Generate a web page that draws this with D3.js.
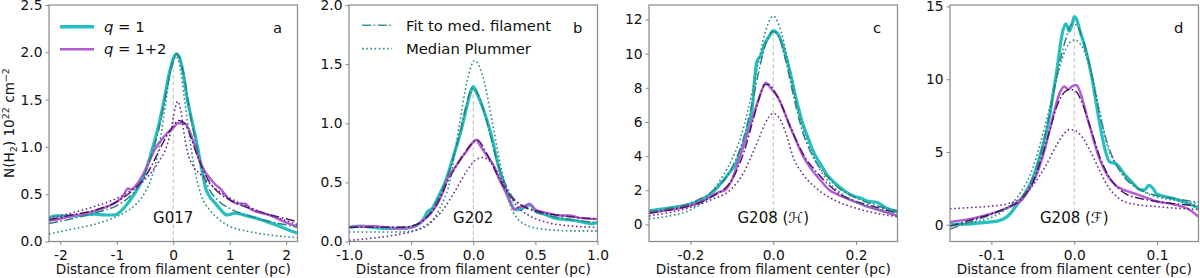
<!DOCTYPE html>
<html>
<head>
<meta charset="utf-8">
<script src="https://cdn.jsdelivr.net/npm/d3@7"></script>
<style>
body { margin: 0; background: #fff; }
svg { font-family: "DejaVu Sans", sans-serif; }
</style>
</head>
<body>
<script>
(function(){

//panel a (G017): [distance pc, N(H2) 1e22]
var aQ1 = [[-2.2,0.25],[-2.1,0.27],[-2.0,0.27],[-1.8,0.27],[-1.6,0.28],[-1.4,0.29],[-1.2,0.28],[-1.05,0.28],[-0.95,0.31],[-0.85,0.37],[-0.69,0.5],[-0.55,0.65],[-0.45,0.82],[-0.36,1.0],[-0.25,1.25],[-0.16,1.5],[-0.08,1.75],[0.0,1.93],[0.05,1.98],[0.1,1.96],[0.17,1.8],[0.25,1.5],[0.34,1.25],[0.43,1.0],[0.5,0.78],[0.58,0.55],[0.65,0.47],[0.75,0.4],[0.85,0.33],[0.95,0.28],[1.02,0.29],[1.1,0.3],[1.25,0.28],[1.45,0.25],[1.65,0.21],[1.85,0.17],[2.05,0.12],[2.2,0.09]];
var aQ12 = [[-2.2,0.22],[-2.0,0.24],[-1.8,0.27],[-1.6,0.29],[-1.4,0.32],[-1.2,0.36],[-1.0,0.42],[-0.9,0.47],[-0.8,0.56],[-0.75,0.55],[-0.65,0.6],[-0.5,0.75],[-0.4,0.88],[-0.3,1.0],[-0.2,1.08],[-0.1,1.15],[0.0,1.2],[0.08,1.25],[0.2,1.25],[0.28,1.18],[0.36,1.05],[0.45,0.88],[0.55,0.75],[0.65,0.67],[0.75,0.6],[0.85,0.55],[0.95,0.47],[1.05,0.42],[1.15,0.4],[1.28,0.4],[1.35,0.35],[1.5,0.31],[1.7,0.28],[1.85,0.24],[2.0,0.2],[2.2,0.16]];
var aFit1 = [[-2.2,0.19],[-1.8,0.24],[-1.4,0.3],[-1.0,0.38],[-0.8,0.46],[-0.6,0.6],[-0.4,0.88],[-0.25,1.2],[-0.1,1.65],[0.0,1.9],[0.06,1.99],[0.12,1.93],[0.2,1.72],[0.3,1.35],[0.4,1.05],[0.5,0.78],[0.6,0.6],[0.8,0.43],[1.0,0.35],[1.4,0.26],[1.8,0.2],[2.2,0.15]];
var aFit12 = [[-2.2,0.23],[-1.8,0.28],[-1.4,0.33],[-1.0,0.42],[-0.7,0.55],[-0.5,0.68],[-0.3,0.9],[-0.15,1.08],[0.0,1.22],[0.1,1.28],[0.2,1.25],[0.3,1.12],[0.4,0.95],[0.5,0.8],[0.6,0.67],[0.8,0.52],[1.0,0.44],[1.4,0.34],[1.8,0.27],[2.2,0.21]];
var aPl1 = [[-2.2,0.08],[-1.8,0.13],[-1.4,0.18],[-1.1,0.24],[-0.85,0.31],[-0.65,0.4],[-0.5,0.52],[-0.38,0.68],[-0.25,1.0],[-0.15,1.4],[-0.05,1.8],[0.03,1.97],[0.1,1.9],[0.2,1.5],[0.3,1.05],[0.4,0.7],[0.5,0.48],[0.65,0.33],[0.8,0.24],[1.0,0.16],[1.3,0.11],[1.7,0.07],[2.2,0.04]];
var aPl12 = [[-2.2,0.25],[-1.8,0.3],[-1.4,0.37],[-1.1,0.43],[-0.8,0.52],[-0.6,0.6],[-0.4,0.72],[-0.25,0.85],[-0.12,1.0],[-0.03,1.2],[0.03,1.4],[0.08,1.48],[0.13,1.4],[0.19,1.15],[0.25,0.95],[0.35,0.8],[0.5,0.7],[0.7,0.58],[1.0,0.46],[1.4,0.35],[1.8,0.26],[2.2,0.18]];

//panel b (G202)
var bQ1 = [[-1.0,0.12],[-0.9,0.13],[-0.8,0.12],[-0.7,0.11],[-0.6,0.11],[-0.5,0.12],[-0.45,0.14],[-0.4,0.19],[-0.37,0.25],[-0.33,0.28],[-0.28,0.38],[-0.22,0.52],[-0.16,0.72],[-0.1,0.93],[-0.05,1.15],[-0.02,1.27],[0.0,1.31],[0.03,1.25],[0.07,1.15],[0.1,1.06],[0.15,0.88],[0.2,0.65],[0.25,0.48],[0.3,0.33],[0.34,0.27],[0.38,0.27],[0.42,0.3],[0.46,0.31],[0.5,0.26],[0.55,0.24],[0.6,0.22],[0.65,0.2],[0.7,0.19],[0.8,0.18],[0.9,0.16],[0.95,0.15],[1.0,0.16]];
var bQ12 = [[-1.0,0.12],[-0.9,0.13],[-0.8,0.13],[-0.7,0.12],[-0.6,0.11],[-0.5,0.12],[-0.4,0.18],[-0.3,0.3],[-0.25,0.4],[-0.2,0.55],[-0.15,0.62],[-0.1,0.7],[-0.05,0.77],[0.0,0.84],[0.02,0.86],[0.05,0.82],[0.1,0.74],[0.17,0.63],[0.2,0.55],[0.25,0.44],[0.29,0.35],[0.33,0.27],[0.37,0.29],[0.42,0.3],[0.45,0.32],[0.5,0.27],[0.6,0.24],[0.7,0.22],[0.78,0.22],[0.85,0.2],[1.0,0.19]];
var bFit1 = [[-1.0,0.12],[-0.8,0.12],[-0.6,0.12],[-0.5,0.13],[-0.4,0.18],[-0.3,0.33],[-0.2,0.57],[-0.1,0.95],[-0.03,1.25],[0.0,1.3],[0.05,1.22],[0.1,1.05],[0.2,0.65],[0.3,0.4],[0.4,0.3],[0.5,0.25],[0.7,0.2],[1.0,0.16]];
var bFit12 = [[-1.0,0.12],[-0.8,0.12],[-0.6,0.12],[-0.5,0.13],[-0.4,0.18],[-0.3,0.3],[-0.2,0.52],[-0.1,0.7],[0.0,0.84],[0.03,0.86],[0.1,0.76],[0.2,0.55],[0.3,0.38],[0.4,0.3],[0.5,0.26],[0.7,0.22],[1.0,0.19]];
var bPl1 = [[-1.0,0.08],[-0.8,0.08],[-0.6,0.08],[-0.45,0.1],[-0.35,0.15],[-0.27,0.28],[-0.19,0.5],[-0.11,1.0],[-0.05,1.35],[0.01,1.53],[0.07,1.42],[0.155,1.0],[0.2,0.75],[0.25,0.5],[0.3,0.3],[0.35,0.2],[0.45,0.13],[0.6,0.1],[0.8,0.09],[1.0,0.09]];
var bPl12 = [[-1.0,0.01],[-0.8,0.03],[-0.6,0.06],[-0.45,0.1],[-0.35,0.16],[-0.25,0.26],[-0.15,0.42],[-0.05,0.6],[0.02,0.69],[0.07,0.71],[0.12,0.69],[0.2,0.58],[0.28,0.42],[0.35,0.3],[0.45,0.22],[0.6,0.16],[0.8,0.13],[1.0,0.12]];

//panel c (G208 H)
var cQ1 = [[-0.3,0.8],[-0.27,0.9],[-0.24,1.0],[-0.2,1.2],[-0.17,1.5],[-0.15,1.8],[-0.13,2.3],[-0.11,2.9],[-0.09,3.6],[-0.07,4.9],[-0.06,5.8],[-0.05,7.0],[-0.045,8.5],[-0.04,9.5],[-0.03,9.9],[-0.02,10.6],[-0.01,11.0],[0.0,11.35],[0.01,11.2],[0.02,10.7],[0.03,9.9],[0.04,9.0],[0.05,7.9],[0.06,6.9],[0.07,6.0],[0.085,5.0],[0.1,4.1],[0.115,3.5],[0.13,2.9],[0.15,2.4],[0.17,2.0],[0.19,1.7],[0.21,1.55],[0.23,1.35],[0.25,1.3],[0.27,1.0],[0.3,0.75]];
var cQ12 = [[-0.3,0.7],[-0.25,0.85],[-0.2,1.1],[-0.16,1.5],[-0.13,1.9],[-0.117,2.0],[-0.1,2.6],[-0.08,4.0],[-0.065,5.1],[-0.053,6.0],[-0.04,7.0],[-0.025,8.0],[-0.018,8.3],[-0.01,8.1],[0.0,7.8],[0.01,7.5],[0.02,7.0],[0.036,6.0],[0.05,5.2],[0.072,4.0],[0.09,3.3],[0.11,2.7],[0.136,2.0],[0.16,1.7],[0.19,1.4],[0.22,1.1],[0.26,0.8],[0.3,0.5]];
var cFit1 = [[-0.3,0.75],[-0.25,0.95],[-0.2,1.25],[-0.15,1.9],[-0.1,3.3],[-0.07,5.2],[-0.05,7.2],[-0.03,9.5],[-0.015,10.8],[0.0,11.3],[0.015,10.9],[0.03,9.6],[0.05,7.4],[0.07,5.5],[0.1,3.8],[0.13,2.8],[0.16,2.1],[0.2,1.55],[0.25,1.1],[0.3,0.8]];
var cFit12 = [[-0.3,0.65],[-0.25,0.85],[-0.2,1.1],[-0.15,1.6],[-0.1,2.6],[-0.07,4.3],[-0.05,6.0],[-0.035,7.3],[-0.02,8.2],[-0.01,8.2],[0.0,7.9],[0.02,7.0],[0.04,5.8],[0.06,4.7],[0.08,3.8],[0.1,3.2],[0.13,2.4],[0.16,1.8],[0.2,1.35],[0.25,1.0],[0.3,0.65]];
var cPl1 = [[-0.3,0.33],[-0.25,0.5],[-0.2,0.85],[-0.17,1.3],[-0.145,2.0],[-0.12,2.9],[-0.1,3.8],[-0.08,5.0],[-0.06,6.8],[-0.04,9.0],[-0.02,11.2],[0.0,12.2],[0.02,11.2],[0.04,9.0],[0.06,6.7],[0.08,5.0],[0.1,3.8],[0.13,2.6],[0.16,1.9],[0.2,1.3],[0.25,0.9],[0.3,0.65]];
var cPl12 = [[-0.3,0.5],[-0.25,0.7],[-0.2,1.0],[-0.15,1.45],[-0.1,2.1],[-0.07,3.1],[-0.053,4.0],[-0.035,5.0],[-0.02,5.9],[0.0,6.5],[0.02,6.0],[0.035,5.0],[0.047,4.0],[0.07,3.0],[0.11,2.0],[0.15,1.4],[0.2,0.95],[0.25,0.65],[0.3,0.45]];

//panel d (G208 F)
var dQ1 = [[-0.15,0.05],[-0.13,0.05],[-0.11,0.15],[-0.1,0.2],[-0.09,0.3],[-0.08,0.6],[-0.07,1.3],[-0.06,2.1],[-0.05,3.2],[-0.04,5.0],[-0.03,7.4],[-0.025,9.2],[-0.02,11.0],[-0.015,13.0],[-0.01,13.8],[-0.006,13.3],[-0.003,13.7],[0.0,14.3],[0.003,14.1],[0.007,13.3],[0.012,12.4],[0.02,10.5],[0.03,7.2],[0.037,5.2],[0.043,4.3],[0.05,4.2],[0.055,3.9],[0.06,3.5],[0.07,2.9],[0.08,2.4],[0.085,2.4],[0.09,2.7],[0.095,2.5],[0.1,2.1],[0.12,1.8],[0.14,1.4],[0.15,1.15]];
var dQ12 = [[-0.15,0.2],[-0.13,0.35],[-0.11,0.6],[-0.09,0.95],[-0.075,1.3],[-0.065,1.6],[-0.055,2.4],[-0.045,3.5],[-0.035,5.3],[-0.025,7.6],[-0.018,9.0],[-0.012,9.5],[-0.007,9.3],[-0.003,9.5],[0.002,9.6],[0.006,9.3],[0.01,8.6],[0.015,7.5],[0.02,6.5],[0.03,4.6],[0.04,3.4],[0.05,2.7],[0.06,2.4],[0.07,2.2],[0.08,2.0],[0.1,1.6],[0.12,1.4],[0.14,1.0],[0.15,0.55]];
var dFit1 = [[-0.15,-0.3],[-0.12,0.3],[-0.1,0.7],[-0.08,1.2],[-0.065,1.8],[-0.05,3.2],[-0.04,5.0],[-0.03,7.5],[-0.02,10.5],[-0.01,12.8],[-0.003,13.8],[0.003,13.7],[0.01,12.8],[0.02,10.6],[0.03,7.8],[0.04,5.6],[0.05,4.2],[0.06,3.3],[0.08,2.4],[0.1,2.0],[0.12,1.8],[0.15,1.55]];
var dFit12 = [[-0.15,-0.1],[-0.12,0.4],[-0.1,0.75],[-0.08,1.2],[-0.065,1.7],[-0.05,2.9],[-0.04,4.5],[-0.03,6.4],[-0.02,8.3],[-0.01,9.2],[-0.004,9.3],[0.003,9.1],[0.01,8.3],[0.02,6.6],[0.03,4.8],[0.04,3.5],[0.05,2.7],[0.06,2.2],[0.08,1.8],[0.1,1.6],[0.12,1.45],[0.15,1.3]];
var dPl1 = [[-0.15,-0.1],[-0.12,0.2],[-0.1,0.5],[-0.08,1.2],[-0.065,2.2],[-0.05,3.9],[-0.04,5.8],[-0.03,8.0],[-0.02,10.3],[-0.01,12.1],[0.0,12.7],[0.01,12.2],[0.02,10.6],[0.03,8.0],[0.04,5.4],[0.05,4.2],[0.063,3.3],[0.08,2.4],[0.1,1.9],[0.12,1.7],[0.15,1.45]];
var dPl12 = [[-0.15,1.1],[-0.12,1.2],[-0.1,1.28],[-0.08,1.45],[-0.065,1.8],[-0.05,2.7],[-0.035,4.0],[-0.02,5.6],[-0.01,6.4],[-0.005,6.55],[0.0,6.5],[0.01,6.0],[0.02,5.0],[0.03,3.8],[0.04,2.7],[0.05,2.0],[0.06,1.6],[0.08,1.35],[0.1,1.25],[0.12,1.15],[0.15,1.05]];

//axis limits and ticks
var xDomains = [[-2.2, 2.2], [-1.0, 1.0], [-0.3, 0.3], [-0.15, 0.15]];
var yDomains = [[0, 2.5], [0, 2.0], [-1.0, 12.85], [-1.15, 15.1]];
var xTicks = [[-2, -1, 0, 1, 2], [-1.0, -0.5, 0.0, 0.5, 1.0], [-0.2, 0.0, 0.2], [-0.1, 0.0, 0.1]];
var yTicks = [[0, 0.5, 1.0, 1.5, 2.0, 2.5], [0, 0.5, 1.0, 1.5, 2.0], [0, 2, 4, 6, 8, 10, 12], [0, 5, 10, 15]];
var xFormats = ["d", ".1f", ".1f", ".1f"];
var yFormats = [".1f", ".1f", "d", "d"];
var panelLetters = ["a", "b", "c", "d"];
var regionNames = ["G017", "G202", "G208 (\u210B)", "G208 (\u2131)"];
var legendA = ["q = 1", "q = 1+2"];
var legendB = ["Fit to med. filament", "Median Plummer"];

//series styles
var colTeal = "#26bfbf", colPurple = "#b45ad2",
    colTealFit = "#2f7f80", colPurpleFit = "#4a1866",
    colTealPl = "#2a8a8a", colPurplePl = "#6b2d8f";
var dashDot = "9,2.6,1.6,2.6", dotted = "1.6,2.6";

var panels = [
    {q1: aQ1, q12: aQ12, fit1: aFit1, fit12: aFit12, pl1: aPl1, pl12: aPl12},
    {q1: bQ1, q12: bQ12, fit1: bFit1, fit12: bFit12, pl1: bPl1, pl12: bPl12},
    {q1: cQ1, q12: cQ12, fit1: cFit1, fit12: cFit12, pl1: cPl1, pl12: cPl12},
    {q1: dQ1, q12: dQ12, fit1: dFit1, fit12: dFit12, pl1: dPl1, pl12: dPl12}
];

//frame dimensions
var width = 1200, height = 278;
var lefts = [49, 349, 649, 950],
    panelWidth = 248.5,
    top = 5,
    bottom = 241.5;

var svg = d3.select("body")
    .append("svg")
    .attr("width", width)
    .attr("height", height);

function fmt(f){
    var base = d3.format(f);
    return function(d){ return base(d).replace("\u2212", "-"); };
};

panels.forEach(function(p, i){
    var x = d3.scaleLinear().domain(xDomains[i]).range([lefts[i], lefts[i] + panelWidth]);
    var y = d3.scaleLinear().domain(yDomains[i]).range([bottom, top]);

    var g = svg.append("g").attr("class", "panel");

    //clip for the plot area
    g.append("clipPath")
        .attr("id", "clip" + i)
        .append("rect")
        .attr("x", lefts[i])
        .attr("y", top)
        .attr("width", panelWidth)
        .attr("height", bottom - top);

    var plot = g.append("g").attr("clip-path", "url(#clip" + i + ")");

    //grey centre line from 0 up to the peak
    plot.append("line")
        .attr("x1", x(0)).attr("x2", x(0))
        .attr("y1", y(0)).attr("y2", y(d3.max(p.q1, function(d){ return d[1]; })))
        .attr("stroke", "#c8c8c8")
        .attr("stroke-width", 1.2)
        .attr("stroke-dasharray", "4,2.5");

    var line = d3.line()
        .x(function(d){ return x(d[0]); })
        .y(function(d){ return y(d[1]); })
        .curve(d3.curveMonotoneX);

    var series = [
        {data: p.q1, color: colTeal, w: 3.2, dash: null},
        {data: p.q12, color: colPurple, w: 2.4, dash: null},
        {data: p.fit1, color: colTealFit, w: 1.5, dash: dashDot},
        {data: p.fit12, color: colPurpleFit, w: 1.5, dash: dashDot},
        {data: p.pl1, color: colTealPl, w: 1.6, dash: dotted},
        {data: p.pl12, color: colPurplePl, w: 1.6, dash: dotted}
    ];

    plot.selectAll(".series")
        .data(series)
        .enter()
        .append("path")
        .attr("class", "series")
        .attr("d", function(s){ return line(s.data); })
        .attr("fill", "none")
        .attr("stroke", function(s){ return s.color; })
        .attr("stroke-width", function(s){ return s.w; })
        .attr("stroke-dasharray", function(s){ return s.dash; })
        .attr("stroke-linejoin", "round");

    //axes
    var xAxis = g.append("g")
        .attr("transform", "translate(0," + bottom + ")")
        .call(d3.axisBottom(x).tickValues(xTicks[i]).tickSize(3.5).tickPadding(5.5).tickFormat(fmt(xFormats[i])));
    var yAxis = g.append("g")
        .attr("transform", "translate(" + lefts[i] + ",0)")
        .call(d3.axisLeft(y).tickValues(yTicks[i]).tickSize(3.5).tickPadding(3).tickFormat(fmt(yFormats[i])));

    [xAxis, yAxis].forEach(function(ax){
        ax.select(".domain").remove();
        ax.selectAll("line").attr("stroke", "#888");
        ax.selectAll("text")
            .attr("fill", "#111")
            .style("font-size", "13.8px")
            .style("font-family", "DejaVu Sans");
    });

    //frame
    g.append("rect")
        .attr("x", lefts[i])
        .attr("y", top)
        .attr("width", panelWidth)
        .attr("height", bottom - top)
        .attr("fill", "none")
        .attr("stroke", "#888")
        .attr("stroke-width", 1.2);

    //x label
    g.append("text")
        .attr("x", lefts[i] + panelWidth / 2)
        .attr("y", 274)
        .attr("text-anchor", "middle")
        .style("font-size", "13.6px")
        .attr("fill", "#111")
        .text("Distance from filament center (pc)");

    //panel letter
    g.append("text")
        .attr("x", lefts[i] + panelWidth - 24.5)
        .attr("y", 33)
        .style("font-size", "14.8px")
        .attr("fill", "#111")
        .text(panelLetters[i]);

    //region name
    g.append("text")
        .attr("x", x(0))
        .attr("y", 223)
        .attr("text-anchor", "middle")
        .style("font-size", "15px")
        .attr("fill", "#111")
        .text(regionNames[i]);
});

//legend in panel a
var legA = svg.append("g");
[[colTeal, 3.5], [colPurple, 2.5]].forEach(function(s, j){
    var yy = 26.7 + j * 22.5;
    legA.append("line")
        .attr("x1", 60).attr("x2", 94)
        .attr("y1", yy).attr("y2", yy)
        .attr("stroke", s[0])
        .attr("stroke-width", s[1]);
    var t = legA.append("text")
        .attr("x", 104)
        .attr("y", yy + 5)
        .style("font-size", "14.8px")
        .attr("fill", "#111");
    t.append("tspan").style("font-style", "italic").text(legendA[j].slice(0, 1));
    t.append("tspan").text(legendA[j].slice(1));
});

//legend in panel b
var legB = svg.append("g");
[dashDot, dotted].forEach(function(dash, j){
    var yy = 25.3 + j * 23.3;
    legB.append("line")
        .attr("x1", 362).attr("x2", 392)
        .attr("y1", yy).attr("y2", yy)
        .attr("stroke", j == 0 ? "#3a9696" : colTealPl)
        .attr("stroke-width", 1.6)
        .attr("stroke-dasharray", dash);
    legB.append("text")
        .attr("x", 406)
        .attr("y", yy + 5.2)
        .style("font-size", "14.8px")
        .attr("fill", "#111")
        .text(legendB[j]);
});

//y label with sub / superscripts
var yl = svg.append("text")
    .attr("transform", "translate(14,123) rotate(-90)")
    .attr("text-anchor", "middle")
    .style("font-size", "13.6px")
    .attr("fill", "#111");
yl.append("tspan").text("N(H");
yl.append("tspan").attr("dy", 3).style("font-size", "9.5px").text("2");
yl.append("tspan").attr("dy", -3).text(") 10");
yl.append("tspan").attr("dy", -5.5).style("font-size", "9.5px").text("22");
yl.append("tspan").attr("dy", 5.5).text(" cm");
yl.append("tspan").attr("dy", -5.5).style("font-size", "9.5px").text("\u22122");

})();
</script>
</body>
</html>
